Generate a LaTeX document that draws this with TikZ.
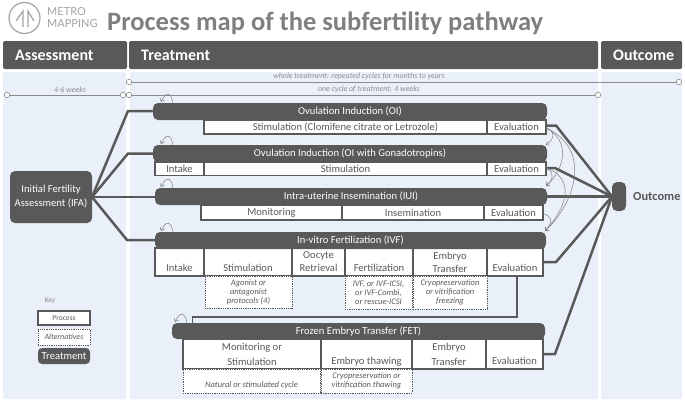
\documentclass[tikz,border=0pt]{standalone}
\usepackage{fontspec}
\usepackage{xcolor}
\setmainfont{Carlito}
\newfontfamily\logofont{Lato}
\usetikzlibrary{arrows.meta}

\definecolor{barGrey}{HTML}{595959}
\definecolor{titleGrey}{HTML}{7F7F7F}
\definecolor{panelBlue}{HTML}{EAF0FA}
\definecolor{lineGrey}{HTML}{8C8C8C}

\newcommand{\blankrow}{\vphantom{O}\\}

\tikzset{
  headbox/.style={fill=barGrey, rounded corners=1.5pt, text=white, anchor=north west, inner sep=0pt, outer sep=0pt, font=\bfseries\fontsize{16}{17}\selectfont},
  panelbox/.style={fill=panelBlue, rounded corners=2pt},
  procbox/.style={draw=barGrey, line width=1.2pt, fill=white, text=barGrey, anchor=north west, inner sep=0pt, outer sep=0pt, align=center, font=\fontsize{10.6}{13}\selectfont},
  altbox/.style={draw=barGrey, densely dotted, line width=0.8pt, fill=white, text=barGrey, anchor=north west, inner sep=0pt, outer sep=0pt, align=center, font=\itshape\fontsize{8.5}{9.2}\selectfont},
  barbox/.style={fill=barGrey, rounded corners=5pt, text=white, anchor=north west, inner sep=0pt, outer sep=0pt, font=\fontsize{10.6}{11}\selectfont},
  timemark/.style={circle, draw=lineGrey, fill=white, line width=0.6pt, inner sep=0pt, minimum size=5.5pt},
  timeline/.style={draw=lineGrey, line width=0.8pt},
  timelabel/.style={text=lineGrey, inner sep=0pt, font=\itshape\fontsize{7.9}{9}\selectfont},
  pathline/.style={draw=barGrey, line width=2.5pt, line join=miter},
  loopline/.style={draw=titleGrey, line width=0.5pt, -{Straight Barb[length=3pt,width=5pt]}},
}

\begin{document}
\begin{tikzpicture}[x=1pt,y=-1pt]
\useasboundingbox (0,0) rectangle (685,402);

% logo and title
\draw[lineGrey!80, line width=1.2pt] (24.5,18) circle (15.5);
\draw[lineGrey!80, line width=1.2pt] (16,21)--(23,11)--(23,27);
\draw[lineGrey!80, line width=1.2pt] (34,21)--(28,11)--(28,27);
\node[anchor=west, inner sep=0pt, text=lineGrey!80, font=\logofont\fontsize{11}{12}\selectfont] (logoTop) at (47,12) {METRO};
\node[anchor=west, inner sep=0pt, text=lineGrey!80, font=\logofont\fontsize{11}{12}\selectfont] (logoBottom) at (47,24) {MAPPING};
\node[anchor=west, inner sep=0pt, text=titleGrey, font=\bfseries\fontsize{26.5}{28}\selectfont] (title) at (107,23) {Process map of the subfertility pathway};

% columns
\node[headbox, minimum width=124pt, minimum height=28pt] (assessHead) at (3,41) {};
\node[headbox, minimum width=469pt, minimum height=28pt] (treatHead) at (129,41) {};
\node[headbox, minimum width=81pt, minimum height=28pt] (outHead) at (601,41) {};
\node[anchor=west, inner sep=0pt, text=white, font=\bfseries\fontsize{16}{17}\selectfont] (assessText) at (15,55) {Assessment};
\node[anchor=west, inner sep=0pt, text=white, font=\bfseries\fontsize{16}{17}\selectfont] (treatText) at (141,55) {Treatment};
\node[anchor=west, inner sep=0pt, text=white, font=\bfseries\fontsize{16}{17}\selectfont] (outText) at (613,55) {Outcome};
\fill[panelbox] (3,72) rectangle (126,399);
\fill[panelbox] (130,72) rectangle (598,399);
\fill[panelbox] (601,72) rectangle (682,399);

% time lines
\node[timemark] (wholeStart) at (129,82) {};
\node[timemark] (wholeEnd) at (679,82) {};
\node[timemark] (cycleStart) at (129,95) {};
\node[timemark] (cycleEnd) at (598,95) {};
\node[timemark] (weeksStart) at (7,95) {};
\node[timemark] (weeksEnd) at (123,95) {};
\draw[timeline] (wholeStart)--(wholeEnd);
\draw[timeline] (cycleStart)--(cycleEnd);
\draw[timeline] (weeksStart)--(weeksEnd);
\node[timelabel] (wholeText) at (359,76.5) {whole treatment: repeated cycles for months to years};
\node[timelabel] (cycleText) at (369,89.5) {one cycle of treatment: 4 weeks};
\node[timelabel] (weeksText) at (70,89.5) {4-6 weeks};

% Ovulation Induction
\node[procbox, minimum width=283pt, minimum height=14pt] (oiStim) at (204,120) {Stimulation (Clomifene citrate or Letrozole)};
\node[procbox, minimum width=59pt, minimum height=14pt] (oiEval) at (487,120) {Evaluation};
\node[barbox, minimum width=394pt, minimum height=17pt] (oi) at (153,103) {Ovulation Induction (OI)};

% Ovulation Induction with Gonadotropins
\node[procbox, minimum width=49pt, minimum height=13.5pt] (goIntake) at (155,162) {Intake};
\node[procbox, minimum width=283pt, minimum height=13.5pt] (goStim) at (204,162) {Stimulation};
\node[procbox, minimum width=59pt, minimum height=13.5pt] (goEval) at (487,162) {Evaluation};
\node[barbox, minimum width=394pt, minimum height=17pt] (go) at (153,145) {Ovulation Induction (OI with Gonadotropins)};

% Intra-uterine Insemination
\node[procbox, minimum width=141pt, minimum height=15pt] (iuiMon) at (201,205) {Monitoring};
\node[procbox, minimum width=142pt, minimum height=15pt] (iuiIns) at (342,205) {Insemination};
\node[procbox, minimum width=59pt, minimum height=15pt] (iuiEval) at (484,205) {Evaluation};
\node[barbox, minimum width=392pt, minimum height=17pt] (iui) at (155,188) {Intra-uterine Insemination (IUI)};

% In-vitro Fertilization
\node[procbox, minimum width=49pt, minimum height=28pt] (ivfIntake) at (155,248) {\blankrow Intake};
\node[procbox, minimum width=88pt, minimum height=28pt] (ivfStim) at (204,248) {\blankrow Stimulation};
\node[procbox, minimum width=53pt, minimum height=28pt] (ivfOocyte) at (292,248) {Oocyte\\Retrieval};
\node[procbox, minimum width=68pt, minimum height=28pt] (ivfFert) at (345,248) {\blankrow Fertilization};
\node[procbox, minimum width=74pt, minimum height=28pt] (ivfTransfer) at (413,248) {Embryo\\Transfer};
\node[procbox, minimum width=56pt, minimum height=28pt] (ivfEval) at (487,248) {\blankrow Evaluation};
\node[barbox, minimum width=391pt, minimum height=17pt] (ivf) at (155,232) {In-vitro Fertilization (IVF)};
\node[altbox, minimum width=87pt, minimum height=32pt] (ivfStimAlt) at (205,276) {Agonist or\\antagonist\\protocols (4)};
\node[altbox, minimum width=67pt, minimum height=33pt] (ivfFertAlt) at (345,276) {IVF, or IVF-ICSI,\\or IVF-Combi,\\or rescue-ICSI};
\node[altbox, minimum width=74pt, minimum height=33pt] (ivfTransferAlt) at (413,276) {Cryopreservation\\or vitrification\\freezing};

% Frozen Embryo Transfer
\node[procbox, minimum width=138pt, minimum height=30pt, font=\fontsize{10.6}{15}\selectfont] (fetMon) at (183,339) {Monitoring or\\Stimulation};
\node[procbox, minimum width=91pt, minimum height=30pt, font=\fontsize{10.6}{15}\selectfont] (fetThaw) at (321,339) {\blankrow Embryo thawing};
\node[procbox, minimum width=74pt, minimum height=30pt, font=\fontsize{10.6}{15}\selectfont] (fetTransfer) at (412,339) {Embryo\\Transfer};
\node[procbox, minimum width=57pt, minimum height=30pt, font=\fontsize{10.6}{15}\selectfont] (fetEval) at (486,339) {\blankrow Evaluation};
\node[barbox, minimum width=373pt, minimum height=16pt] (fet) at (172,323) {Frozen Embryo Transfer (FET)};
\node[altbox, minimum width=137pt, minimum height=24pt] (fetMonAlt) at (183,369) {\blankrow Natural or stimulated cycle};
\node[altbox, minimum width=91pt, minimum height=24pt] (fetThawAlt) at (321,369) {Cryopreservation or\\vitrification thawing};

% key
\node[timelabel, text=barGrey!70, font=\itshape\fontsize{7.5}{9}\selectfont] (keyText) at (50,301) {Key};
\node[procbox, line width=1.2pt, minimum width=52pt, minimum height=14pt, font=\fontsize{7.5}{9}\selectfont] (keyProcess) at (38,311) {Process};
\node[altbox, minimum width=52pt, minimum height=16pt, font=\itshape\fontsize{8}{9}\selectfont] (keyAlt) at (38,329) {Alternatives};
\node[barbox, rounded corners=4pt, minimum width=52pt, minimum height=16pt] (keyTreat) at (38,348) {Treatment};

% assessment and outcome
\coordinate (oiIn) at (128,111);
\coordinate (goIn) at (128,153.5);
\coordinate (ivfIn) at (127,240);
\coordinate (oiOut) at (556,125.5);
\coordinate (goOut) at (555,168);
\coordinate (ivfOut) at (556,262);
\coordinate (fetOut) at (555,354);
\coordinate (fetOver) at (192.5,317);
\node[barbox, anchor=center, align=center, rounded corners=5pt, minimum width=82pt, minimum height=52pt, font=\fontsize{10.6}{14}\selectfont] (ifa) at (51,197) {Initial Fertility\\Assessment (IFA)};
\node[barbox, anchor=center, minimum width=14pt, minimum height=29pt] (outcome) at (619,196.5) {};
\node[anchor=west, inner sep=0pt, text=barGrey, font=\bfseries\fontsize{12.4}{14}\selectfont] (outcomeText) at (633,196) {Outcome};

\draw[pathline] (ifa.east)--(oiIn)--(oi.west |- oiIn);
\draw[pathline] (ifa.east)--(goIn)--(go.west |- goIn);
\draw[pathline] (ifa.east)--(iui.west |- ifa.east);
\draw[pathline] (ifa.east)--(ivfIn)--(ivf.west |- ivfIn);
\draw[pathline] (oiEval.east |- oiOut)--(oiOut)--(outcome.west);
\draw[pathline] (goEval.east |- goOut)--(goOut)--(outcome.west);
\draw[pathline] (iui.east |- outcome.west)--(outcome.west);
\draw[pathline] (ivfEval.east |- ivfOut)--(ivfOut)--(outcome.west);
\draw[pathline] (fetEval.east |- fetOut)--(fetOut)--(outcome.west);
\draw[pathline, line width=1.8pt] ([xshift=2pt]ivfEval.south) |- (fetOver)--(fetOver |- fet.north);

% repeats
\draw[loopline] ([xshift=20pt]oi.north west) .. controls +(-2,-11) and +(5,-11) .. ([xshift=8pt,yshift=1pt]oi.north west);
\draw[loopline] ([xshift=20pt]go.north west) .. controls +(-2,-11) and +(5,-11) .. ([xshift=8pt,yshift=1pt]go.north west);
\draw[loopline] ([xshift=18pt]iui.north west) .. controls +(-2,-11) and +(5,-11) .. ([xshift=6pt,yshift=1pt]iui.north west);
\draw[loopline] ([xshift=18pt]ivf.north west) .. controls +(-2,-11) and +(5,-11) .. ([xshift=6pt,yshift=1pt]ivf.north west);
\draw[loopline] ([xshift=15pt]fet.north west) .. controls +(-2,-11) and +(5,-11) .. ([xshift=3pt,yshift=1pt]fet.north west);

% next treatment
\draw[loopline] ([yshift=-1pt]oiEval.east) .. controls +(9,3) and +(9,-6) .. ([xshift=-1pt]oi.east |- go.north);
\draw[loopline] ([yshift=-1pt]oiEval.east) .. controls +(24,12) and +(20,-18) .. ([xshift=-1pt,yshift=2pt]iui.north east);
\draw[loopline] ([yshift=-1pt]oiEval.east) .. controls +(45,20) and +(32,-30) .. ([xshift=-1pt,yshift=1pt]ivf.north east);
\draw[loopline] ([yshift=1pt]goEval.east) .. controls +(8,4) and +(8,-6) .. ([xshift=-1pt,yshift=2pt]iui.north east);
\draw[loopline] ([yshift=1pt]goEval.east) .. controls +(28,10) and +(24,-26) .. ([xshift=-1pt,yshift=1pt]ivf.north east);
\draw[loopline] ([yshift=-1pt]iuiEval.east) .. controls +(10,3) and +(8,-8) .. ([xshift=-1pt,yshift=1pt]ivf.north east);

\end{tikzpicture}
\end{document}
